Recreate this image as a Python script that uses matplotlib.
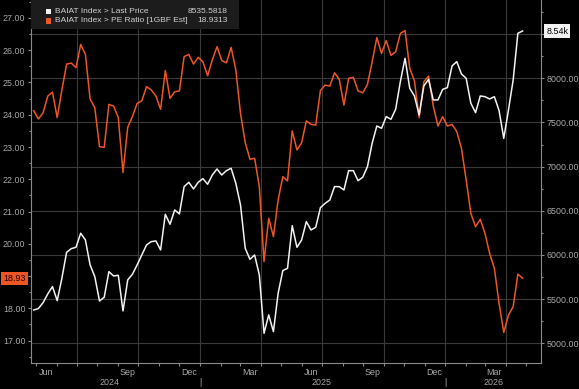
import matplotlib
matplotlib.use("Agg")
import matplotlib.pyplot as plt
import matplotlib.dates as mdates
import matplotlib.ticker as mticker
from matplotlib.patches import Rectangle
import pandas as pd

# ---------------- data ----------------
dates = pd.date_range("2024-04-28", periods=105, freq="7D")

pe_ratio = [24.13, 23.87, 24.06, 24.58, 24.70, 23.91, 24.77, 25.57, 25.60, 25.46,
            26.18, 25.87, 24.49, 24.22, 23.01, 22.99, 24.32, 24.27, 23.91, 22.21,
            23.61, 23.94, 24.35, 24.43, 24.87, 24.77, 24.58, 24.17, 25.37, 24.51,
            24.71, 24.74, 25.80, 25.87, 25.57, 25.78, 25.64, 25.21, 25.70, 26.11,
            25.68, 25.61, 26.09, 25.39, 24.04, 23.14, 22.62, 22.65, 21.77, 19.45,
            20.79, 20.22, 21.36, 22.08, 21.95, 23.50, 22.91, 23.13, 23.81, 23.70,
            23.68, 24.75, 24.92, 24.89, 25.30, 25.10, 24.30, 25.13, 25.16, 24.74,
            24.68, 24.94, 25.64, 26.39, 25.90, 26.30, 25.84, 25.95, 26.52, 26.61,
            25.44, 25.05, 23.91, 25.02, 25.20, 24.27, 23.65, 23.94, 23.65, 23.70,
            23.48, 22.96, 21.98, 20.94, 20.53, 20.76, 20.32, 19.70, 19.24, 18.15,
            17.25, 17.79, 18.05, 19.06, 18.9313]

last_price = [5376, 5392, 5459, 5558, 5641, 5482, 5735, 6029, 6071, 6086,
              6245, 6169, 5886, 5754, 5478, 5520, 5810, 5761, 5769, 5365,
              5716, 5780, 5886, 5999, 6112, 6150, 6158, 6056, 6460, 6347,
              6509, 6464, 6773, 6822, 6747, 6822, 6864, 6800, 6905, 6973,
              6905, 6954, 6981, 6811, 6565, 6075, 5950, 5999, 5773, 5112,
              5320, 5131, 5565, 5822, 5848, 6331, 6086, 6169, 6377, 6282,
              6313, 6535, 6584, 6622, 6773, 6773, 6735, 6954, 6954, 6841,
              6879, 7000, 7264, 7460, 7434, 7566, 7536, 7649, 7962, 8227,
              7887, 7800, 7585, 7913, 7989, 7755, 7755, 7875, 7894, 8140,
              8189, 8049, 8000, 7717, 7611, 7800, 7792, 7766, 7792, 7634,
              7320, 7641, 7981, 8510, 8535.5818]

series_names = ["BAIAT Index > Last Price", "BAIAT Index > PE Ratio [1GBF Est]"]
series_last = ["8535.5818", "18.9313"]
month_label_dates = ["2024-05-16", "2024-09-15", "2024-12-15", "2025-03-16",
                     "2025-06-15", "2025-09-15", "2025-12-16", "2026-03-15"]
month_labels = ["Jun", "Sep", "Dec", "Mar", "Jun", "Sep", "Dec", "Mar"]
year_label_dates = ["2024-08-19", "2025-07-01", "2026-03-13"]
year_labels = ["2024", "2025", "2026"]
year_breaks = ["2025-01-01", "2026-01-01"]

# ---------------- style ----------------
BG = "#000000"
WHITE = "#f2f2f2"
ORANGE = "#ee5524"
GRID = "#3a3a3a"
SPINE = "#8a8a8a"
TXT = "#a8a8a8"
FONT = "Liberation Sans"
FS = 6.4
FS_LEG = 6.0

plt.rcParams["font.family"] = [FONT, "DejaVu Sans"]

W, H = 579, 389
fig = plt.figure(figsize=(W / 100, H / 100), dpi=100, facecolor=BG)

left_px, right_px, bottom_px, top_px = 31, 540.7, 363.3, 0
rect = [left_px / W, 1 - bottom_px / H, (right_px - left_px) / W, (bottom_px - top_px) / H]

# base axes: price scale (right) + grid
ax = fig.add_axes(rect, facecolor=BG)
ax.set_zorder(1)
# PE axis (left)
ax_pe = ax.twinx()
ax_pe.set_zorder(2)
ax_pe.patch.set_visible(False)
# white line axis (same scale as price)
ax_w = ax.twinx()
ax_w.set_zorder(3)
ax_w.patch.set_visible(False)

xmin, xmax = pd.Timestamp("2024-04-24"), pd.Timestamp("2026-05-23")
price_lim = (4772, 8887)
pe_lim = (16.295, 27.557)

for a in (ax, ax_pe, ax_w):
    a.set_xlim(xmin, xmax)
    for s in a.spines.values():
        s.set_visible(False)

ax.set_ylim(*price_lim)
ax_w.set_ylim(*price_lim)
ax_pe.set_ylim(*pe_lim)

# lines
ax_pe.plot(dates, pe_ratio, color=ORANGE, lw=1.1, solid_joinstyle="round")
ax_w.plot(dates, last_price, color=WHITE, lw=1.1, solid_joinstyle="round")

# spines
for s in ("right", "bottom", "left"):
    ax.spines[s].set_visible(True)
    ax.spines[s].set_color(SPINE)
    ax.spines[s].set_linewidth(0.8)

# price y-axis on the right (top label hidden behind the last-value tag)
price_tag_value = last_price[-1]
ax.yaxis.tick_right()
ax.yaxis.set_major_locator(mticker.MultipleLocator(500))
ax.yaxis.set_minor_locator(mticker.MultipleLocator(250))
ax.yaxis.set_major_formatter(mticker.FuncFormatter(
    lambda v, p: "" if abs(v - price_tag_value) < 150 else f"{v:.2f}"))
ax.tick_params(axis="y", which="both", colors=SPINE, labelcolor=TXT, labelsize=FS,
               length=2, width=0.8, pad=2, left=False, labelleft=False)
ax.tick_params(axis="y", which="minor", length=1.5)

# PE axis ticks on left
ax_pe.yaxis.tick_left()
ax_pe.yaxis.set_major_locator(mticker.MultipleLocator(1))
ax_pe.yaxis.set_minor_locator(mticker.MultipleLocator(0.5))
ax_pe.yaxis.set_major_formatter(mticker.FormatStrFormatter("%.2f"))
ax_pe.tick_params(axis="y", which="both", colors=SPINE, labelcolor=TXT, labelsize=FS,
                  length=2, width=0.8, pad=2, right=False, labelright=False)
ax_pe.tick_params(axis="y", which="minor", length=1.5)
ax_pe.tick_params(axis="x", bottom=False, labelbottom=False)

ax_w.tick_params(axis="both", which="both", left=False, right=False, bottom=False,
                 labelleft=False, labelright=False, labelbottom=False)

# x axis: quarter grid, monthly ticks
ax.xaxis.set_major_locator(mdates.MonthLocator(bymonth=[1, 4, 7, 10]))
ax.xaxis.set_minor_locator(mdates.MonthLocator())
ax.tick_params(axis="x", which="both", colors=SPINE, length=2, width=0.8,
               labelbottom=False)
ax.grid(True, which="major", color=GRID, lw=0.8)
ax.set_axisbelow(True)

xt = ax.get_xaxis_transform()
for d, lab in zip(month_label_dates, month_labels):
    ax.text(pd.Timestamp(d), -0.026, lab, transform=xt, ha="center", va="center",
            fontsize=FS, color=TXT, clip_on=False)
for d, lab in zip(year_label_dates, year_labels):
    ax.text(pd.Timestamp(d), -0.052, lab, transform=xt, ha="center", va="center",
            fontsize=FS, color=TXT, clip_on=False)
for d in year_breaks:
    ax.text(pd.Timestamp(d), -0.052, "|", transform=xt, ha="center", va="center",
            fontsize=FS, color=TXT, clip_on=False)

# legend box
lg_x0, lg_x1, lg_y0, lg_y1 = 30.7, 239.3, 0, 29
fig.patches.append(Rectangle((lg_x0 / W, 1 - lg_y1 / H), (lg_x1 - lg_x0) / W, (lg_y1 - lg_y0) / H,
                             transform=fig.transFigure, facecolor="#1c1c1c",
                             edgecolor="none", zorder=10))
rows_y = [11.3, 21.0]
for yy, name, val, col in zip(rows_y, series_names, series_last, [WHITE, ORANGE]):
    fig.patches.append(Rectangle((45.5 / W, 1 - (yy + 2.8) / H), 5.6 / W, 5.6 / H,
                                 transform=fig.transFigure, facecolor=col,
                                 edgecolor="none", zorder=11))
    fig.text(55 / W, 1 - yy / H, name, ha="left", va="center", fontsize=FS_LEG,
             color="#d0d0d0", zorder=12)
    fig.text(228 / W, 1 - yy / H, val, ha="right", va="center", fontsize=FS_LEG,
             color="#d0d0d0", zorder=12)

# value tags
ax_w.annotate("8.54k", xy=(1, last_price[-1]), xycoords=("axes fraction", "data"),
              xytext=(4, 0), textcoords="offset points", ha="left", va="center",
              fontsize=FS, color="#000000", annotation_clip=False,
              bbox=dict(boxstyle="square,pad=0.25", fc="#f2f2f2", ec="none"))
ax_pe.annotate("18.93", xy=(0, pe_ratio[-1]), xycoords=("axes fraction", "data"),
               xytext=(-4, 0), textcoords="offset points", ha="right", va="center",
               fontsize=FS, color="#1a0500", annotation_clip=False, zorder=20,
               bbox=dict(boxstyle="square,pad=0.25", fc=ORANGE, ec="none"))

fig.savefig("out.png", dpi=100, facecolor=BG)
